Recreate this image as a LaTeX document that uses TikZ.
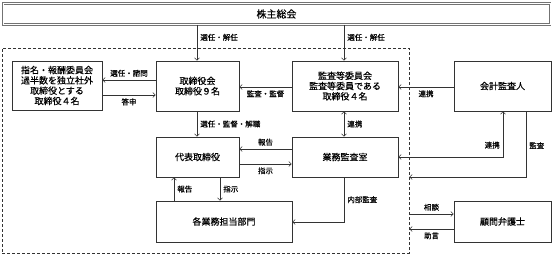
\documentclass[tikz,border=0pt]{standalone}
\usepackage{fontspec}
\newfontfamily\jp[FakeBold=0.4]{Noto Sans CJK JP}
\usetikzlibrary{arrows.meta}
\begin{document}
\begin{tikzpicture}[x=1pt, y=-1pt, >={Straight Barb[length=2.5pt,width=5pt]},
  line width=0.6pt, color=black!80,
  box/.style={draw, text=black, align=center, inner sep=0pt, font=\jp\fontsize{9}{10.3}\selectfont},
  lbl/.style={text=black, font=\jp\fontsize{7.5}{9}\selectfont, inner sep=3pt}]
  \useasboundingbox (0,0) rectangle (553,254);
  \node[box, double, double distance=1pt, draw=black!55, minimum width=547, minimum height=21,
    font=\jp\fontsize{10}{12}\selectfont] (souka) at (276.5,14) {株主総会};
  \node[draw, dashed, dash pattern=on 3pt off 2pt, minimum width=407, minimum height=205, inner sep=0pt] (grp) at (205.5,150.5) {};
  \node[box, minimum width=90, minimum height=49] (shimei) at (57,85.5) {指名・報酬委員会\\過半数を独立社外\\取締役とする\\取締役４名};
  \node[box, minimum width=83, minimum height=50] (torishimari) at (197.5,86) {取締役会\\取締役９名};
  \node[box, minimum width=106, minimum height=50] (kansa) at (345,86) {監査等委員会\\監査等委員である\\取締役４名};
  \node[box, minimum width=97, minimum height=50] (kaikei) at (502.5,86) {会計監査人};
  \node[box, minimum width=83, minimum height=40] (daihyo) at (197.5,157) {代表取締役};
  \node[box, minimum width=106, minimum height=40] (gyomu) at (345,157) {業務監査室};
  \node[box, minimum width=136, minimum height=41] (bumon) at (224,221.5) {各業務担当部門};
  \node[box, minimum width=97, minimum height=41] (bengoshi) at (502.5,221.5) {顧問弁護士};
  % top
  \draw[->] (souka.south -| 197,0) -- node[lbl, right, pos=0.35] {選任・解任} (torishimari.north -| 197,0);
  \draw[->] (souka.south -| 344,0) -- node[lbl, right, pos=0.35] {選任・解任} (kansa.north -| 344,0);
  \draw[->] (torishimari.west |- 0,80) -- node[lbl, above] {選任・諮問} (shimei.east |- 0,80);
  \draw[->] (shimei.east |- 0,95) -- node[lbl, below] {答申} (torishimari.west |- 0,95);
  \draw[->] (kansa.west |- 0,87) -- node[lbl, below] {監査・監督} (torishimari.east |- 0,87);
  \draw[->] (kaikei.west |- 0,87) -- node[lbl, below] {連携} (kansa.east |- 0,87);
  % middle
  \draw[<->] (gyomu.north -| 344,0) -- node[lbl, right] {連携} (kansa.south -| 344,0);
  \draw[->] (torishimari.south -| 197,0) -- node[lbl, right] {選任・監督・解職} (daihyo.north -| 197,0);
  \draw[->] (gyomu.west |- 0,149) -- node[lbl, above] {報告} (daihyo.east |- 0,149);
  \draw[->] (daihyo.east |- 0,164) -- node[lbl, below] {指示} (gyomu.west |- 0,164);
  \draw[->] (bumon.north -| 174,0) -- node[lbl, right] {報告} (daihyo.south -| 174,0);
  \draw[->] (daihyo.south -| 220,0) -- node[lbl, right] {指示} (bumon.north -| 220,0);
  \draw[->] (gyomu.south -| 344,0) |- node[lbl, right, pos=0.25] {内部監査} (bumon.east |- 0,222);
  % right
  \draw[<->] (kaikei.south -| 503,0) |- node[lbl, left, pos=0.37] {連携} (gyomu.east |- 0,157);
  \draw[->] (kaikei.south -| 526,0) |- node[lbl, right, pos=0.26] {監査} (grp.east |- 0,177);
  \draw[->] (grp.east |- 0,214) -- node[lbl, above] {相談} (bengoshi.west |- 0,214);
  \draw[->] (bengoshi.west |- 0,229) -- node[lbl, below] {助言} (grp.east |- 0,229);
\end{tikzpicture}
\end{document}
